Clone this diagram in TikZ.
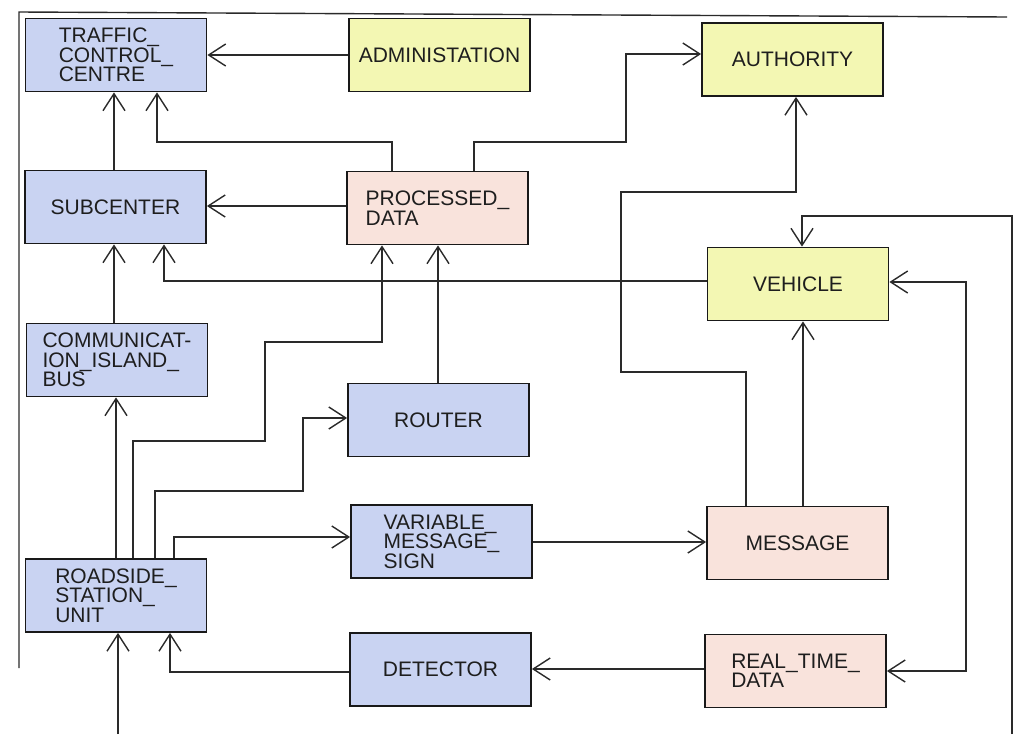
\documentclass[tikz,border=0pt]{standalone}
\usepackage{fontspec}
\setmainfont{Liberation Sans}
\usetikzlibrary{arrows.meta}
\definecolor{bluebox}{HTML}{C9D3F2}
\definecolor{yellowbox}{HTML}{F3F7B3}
\definecolor{pinkbox}{HTML}{F9E3DC}
\definecolor{linegray}{HTML}{2A2A2A}
\definecolor{textgray}{HTML}{1E1E1E}
\begin{document}
\begin{tikzpicture}[x=1pt,y=-1pt,
  box/.style={draw=black!90, line width=1.8pt, minimum width=181pt, minimum height=73pt,
    inner sep=0pt, align=left, text=textgray, font=\fontsize{21}{19.5}\selectfont},
  bluenode/.style={box, fill=bluebox},
  yellownode/.style={box, fill=yellowbox},
  pinknode/.style={box, fill=pinkbox},
  conn/.style={draw=linegray, line width=1.5pt},
  tip/.style={},
  arr/.style={conn, -{Straight Barb[length=17pt,width=22pt,line width=1.4pt]}},
  darr/.style={conn, {Straight Barb[length=17pt,width=22pt,line width=1.4pt]}-{Straight Barb[length=17pt,width=22pt,line width=1.4pt]}},
  frame/.style={draw=linegray, line width=1.4pt}]
\useasboundingbox (0,0) rectangle (1019,734);

% nodes
\node[bluenode]   (TCC)    at (116,55)    {TRAFFIC\_\\CONTROL\_\\CENTRE};
\node[yellownode] (ADM)    at (439.5,55)  {ADMINISTATION};
\node[yellownode] (AUTH)   at (792.5,59.5){AUTHORITY};
\node[bluenode]   (SUB)    at (115.5,207) {SUBCENTER};
\node[pinknode]   (PD)     at (437.5,208) {PROCESSED\_\\DATA};
\node[yellownode] (VEH)    at (798,284)   {VEHICLE};
\node[bluenode]   (COMM)   at (117,360)   {COMMUNICAT-\\ION\_ISLAND\_\\BUS};
\node[bluenode]   (ROUTER) at (438.5,420) {ROUTER};
\node[bluenode]   (VMS)    at (441.5,541.5){VARIABLE\_\\MESSAGE\_\\SIGN};
\node[pinknode]   (MSG)    at (797.5,543) {MESSAGE};
\node[bluenode]   (RSU)    at (116,595.5) {ROADSIDE\_\\STATION\_\\UNIT};
\node[bluenode]   (DET)    at (440.5,669.5){DETECTOR};
\node[pinknode]   (RTD)    at (795.5,671) {REAL\_TIME\_\\DATA};

\coordinate (in1) at (118,734);
\coordinate (in2) at (1012,734);

% frame lines
\draw[frame] (19,668) -- (19,12) -- (1007,17);

% connectors
\draw[arr] (ADM.west |- 0,55) -- (TCC.east |- 0,55);
\draw[arr] (SUB.north -| 114,0) -- (TCC.south -| 114,0);
\draw[arr] (PD.north -| 392,0) -- (392,142) -- (157,142) -- (TCC.south -| 157,0);
\draw[arr] (PD.north -| 474,0) -- (474,142) -- (626,142) -- (626,54) -- (AUTH.west |- 0,54);
\draw[arr] (PD.west |- 0,206) -- (SUB.east |- 0,206);
\draw[arr] (COMM.north -| 114,0) -- (SUB.south -| 114,0);
\draw[arr] (VEH.west |- 0,281) -- (164,281) -- (SUB.south -| 164,0);
\draw[arr] (ROUTER.north -| 438,0) -- (PD.south -| 438,0);
\draw[arr] (RSU.north -| 133,0) -- (133,441) -- (265,441) -- (265,342) -- (382,342) -- (PD.south -| 382,0);
\draw[arr] (RSU.north -| 116,0) -- (COMM.south -| 116,0);
\draw[arr] (RSU.north -| 155,0) -- (155,491) -- (303,491) -- (303,418) -- (ROUTER.west |- 0,418);
\draw[arr] (RSU.north -| 174,0) -- (174,537) -- (VMS.west |- 0,537);
\draw[arr] (VMS.east |- 0,542) -- (MSG.west |- 0,542);
\draw[arr] (MSG.north -| 746,0) -- (746,372) -- (621,372) -- (621,192) -- (796,192) -- (AUTH.south -| 796,0);
\draw[arr] (MSG.north -| 803,0) -- (VEH.south -| 803,0);
\draw[darr] (VEH.east |- 0,282) -- (966,282) -- (966,671) -- (RTD.east |- 0,671);
\draw[arr] (RTD.west |- 0,669) -- (DET.east |- 0,669);
\draw[arr] (DET.west |- 0,672) -- (170,672) -- (RSU.south -| 170,0);
\draw[arr] (in1) -- (RSU.south -| in1);
\draw[arr] (in2) -- (1012,216) -- (802,216) -- (VEH.north -| 802,0);
\end{tikzpicture}
\end{document}
